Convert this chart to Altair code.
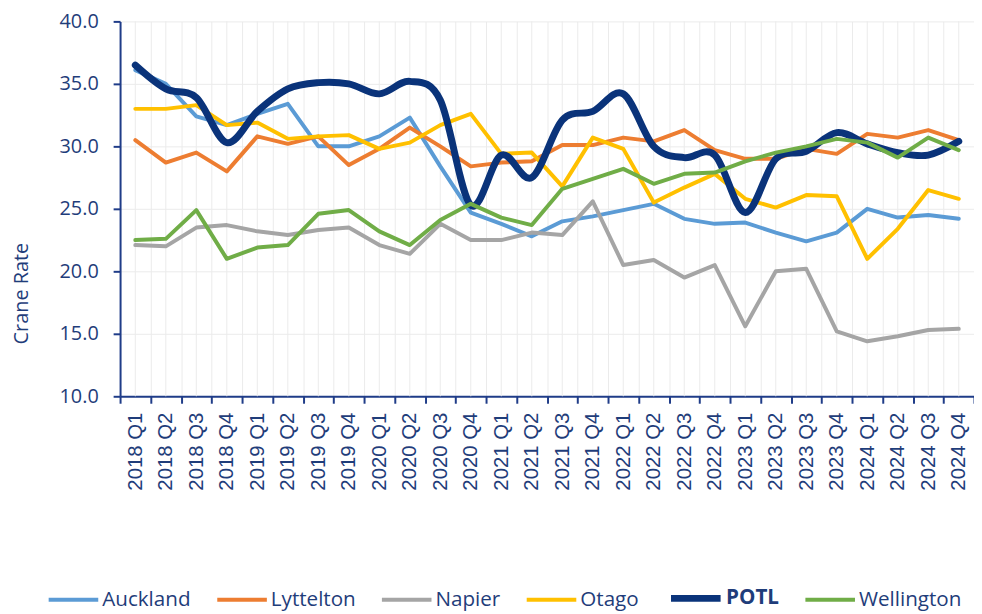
import altair as alt
import pandas as pd

quarters = [
    "2018 Q1", "2018 Q2", "2018 Q3", "2018 Q4",
    "2019 Q1", "2019 Q2", "2019 Q3", "2019 Q4",
    "2020 Q1", "2020 Q2", "2020 Q3", "2020 Q4",
    "2021 Q1", "2021 Q2", "2021 Q3", "2021 Q4",
    "2022 Q1", "2022 Q2", "2022 Q3", "2022 Q4",
    "2023 Q1", "2023 Q2", "2023 Q3", "2023 Q4",
    "2024 Q1", "2024 Q2", "2024 Q3", "2024 Q4",
]

auckland = [36.1, 35.0, 32.4, 31.7, 32.6, 33.4, 30.0, 30.0, 30.8, 32.3, 28.4, 24.7,
            23.8, 22.8, 24.0, 24.4, 24.9, 25.4, 24.2, 23.8, 23.9, 23.1, 22.4, 23.1,
            25.0, 24.3, 24.5, 24.2]
lyttelton = [30.5, 28.7, 29.5, 28.0, 30.8, 30.2, 30.8, 28.5, 29.8, 31.5, 30.0, 28.4,
             28.7, 28.8, 30.1, 30.1, 30.7, 30.4, 31.3, 29.7, 29.0, 29.0, 29.8, 29.4,
             31.0, 30.7, 31.3, 30.5]
napier = [22.1, 22.0, 23.5, 23.7, 23.2, 22.9, 23.3, 23.5, 22.1, 21.4, 23.8, 22.5,
          22.5, 23.1, 22.9, 25.6, 20.5, 20.9, 19.5, 20.5, 15.6, 20.0, 20.2, 15.2,
          14.4, 14.8, 15.3, 15.4]
otago = [33.0, 33.0, 33.3, 31.7, 31.9, 30.6, 30.8, 30.9, 29.8, 30.3, 31.7, 32.6,
         29.4, 29.5, 26.8, 30.7, 29.8, 25.5, 26.7, 27.8, 25.8, 25.1, 26.1, 26.0,
         21.0, 23.4, 26.5, 25.8]
potl = [36.5, 34.6, 33.9, 30.3, 32.8, 34.6, 35.1, 35.0, 34.2, 35.2, 33.7, 25.3,
        29.3, 27.5, 32.1, 32.8, 34.2, 30.0, 29.1, 29.3, 24.7, 29.0, 29.6, 31.1,
        30.2, 29.5, 29.3, 30.4]
wellington = [22.5, 22.6, 24.9, 21.0, 21.9, 22.1, 24.6, 24.9, 23.2, 22.1, 24.1, 25.4,
              24.3, 23.7, 26.6, 27.4, 28.2, 27.0, 27.8, 27.9, 28.8, 29.5, 30.0, 30.6,
              30.3, 29.1, 30.7, 29.7]

series_names = ["Auckland", "Lyttelton", "Napier", "Otago", "POTL", "Wellington"]
series_values = [auckland, lyttelton, napier, otago, potl, wellington]
series_colors = ["#5B9BD5", "#ED7D31", "#A5A5A5", "#FFC000", "#0A337A", "#70AD47"]
series_widths = [4, 4, 4, 4, 7, 4]

rows = []
for name, vals in zip(series_names, series_values):
    for q, v in zip(quarters, vals):
        rows.append({"q": q, "series": name, "value": v})
df = pd.DataFrame(rows)
df_q = pd.DataFrame({"q": quarters})

NAVY = "#1F3D7A"
AXIS_NAVY = "#1F3C88"
GRID = "#EBEBEB"

x_enc = alt.X(
    "q:O",
    sort=quarters,
    scale=alt.Scale(paddingInner=0, paddingOuter=0),
    axis=alt.Axis(
        title=None,
        labelAngle=270,
        labelFont="Liberation Sans",
        labelFontSize=20.5,
        labelColor=NAVY,
        labelPadding=9,
        tickBand="extent",
        tickSize=7,
        tickWidth=2,
        tickColor=AXIS_NAVY,
        domainColor=AXIS_NAVY,
        domainWidth=2,
        grid=True,
        gridColor=GRID,
        gridWidth=1,
    ),
)

legend = alt.Legend(
    title=None,
    orient="none",
    legendX=-74,
    legendY=553,
    direction="horizontal",
    symbolType="stroke",
    symbolSize=2500,
    labelFont="Open Sans",
    labelFontSize=20.8,
    labelColor=NAVY,
    labelFontWeight={"expr": "datum.label == 'POTL' ? 'bold' : 'normal'"},
    labelOffset=2,
    columnPadding=18,
    padding=0,
)

y_enc = alt.Y(
    "value:Q",
    scale=alt.Scale(domain=[10, 40], nice=False, zero=False),
    axis=alt.Axis(
        values=[10, 15, 20, 25, 30, 35, 40],
        format=".1f",
        title="Crane Rate",
        titleFont="Open Sans",
        titleFontSize=20,
        titleFontWeight="normal",
        titleColor=NAVY,
        titleAngle=270,
        titleX=-99,
        titleY=274,
        titleAlign="center",
        titleBaseline="middle",
        labelFont="Open Sans",
        labelFontSize=20,
        labelColor=NAVY,
        labelPadding=15,
        tickSize=7,
        tickWidth=2,
        tickColor=AXIS_NAVY,
        domainColor=AXIS_NAVY,
        domainWidth=2,
        grid=True,
        gridColor=GRID,
        gridWidth=1,
    ),
)

color_enc = alt.Color(
    "series:N",
    scale=alt.Scale(domain=series_names, range=series_colors),
    legend=legend,
)
width_enc = alt.StrokeWidth(
    "series:N",
    scale=alt.Scale(type="ordinal", domain=series_names, range=series_widths),
    legend=legend,
)

center_grid = alt.Chart(df_q).mark_rule(color=GRID, strokeWidth=1).encode(x=x_enc)

base = alt.Chart(df).encode(x=x_enc, y=y_enc, color=color_enc, strokeWidth=width_enc)

group1 = base.transform_filter(
    alt.FieldOneOfPredicate(field="series", oneOf=["Auckland", "Lyttelton", "Napier", "Otago"])
).mark_line(strokeJoin="round", strokeCap="round")
group2 = base.transform_filter(alt.datum.series == "POTL").mark_line(
    interpolate="cardinal", strokeJoin="round", strokeCap="round"
)
group3 = base.transform_filter(alt.datum.series == "Wellington").mark_line(
    strokeJoin="round", strokeCap="round"
)

chart = (
    alt.layer(center_grid, group1, group2, group3)
    .properties(
        width=861,
        height=378,
        autosize=alt.AutoSizeParams(type="none"),
        padding={"left": 113, "top": 11, "right": 0, "bottom": 215},
    )
    .configure_view(stroke=None)
)

chart.save("out.html", embed_options={"renderer": "svg", "actions": False})
